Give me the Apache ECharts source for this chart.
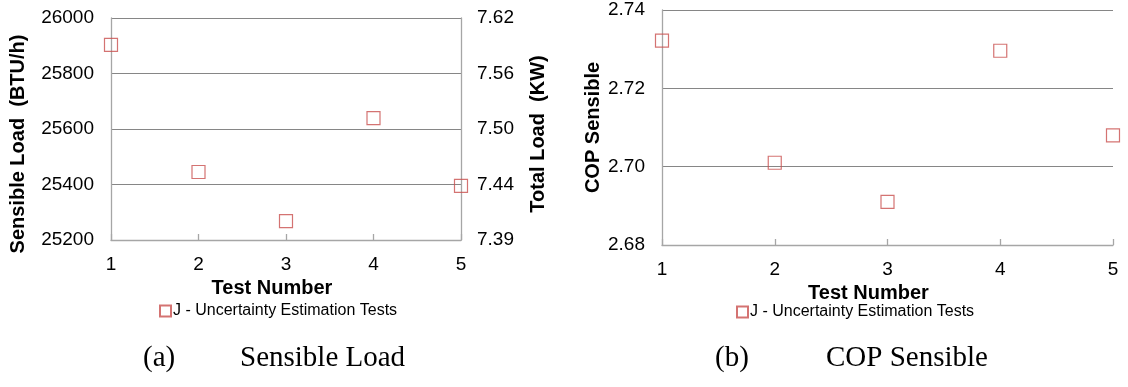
<!DOCTYPE html>
<html>
<head>
<meta charset="utf-8">
<script src="https://cdn.jsdelivr.net/npm/echarts@6/dist/echarts.min.js"></script>
<style>
  html, body { margin: 0; padding: 0; background: #fff; }
  #chart { width: 1128px; height: 387px; }
</style>
</head>
<body>
<div id="chart"></div>
<script>
// Test runs
const testNumbers = [1, 2, 3, 4, 5];
const seriesName = 'J - Uncertainty Estimation Tests';

// (a) Sensible load, BTU/h
const sensibleLoad = [25903, 25445, 25268, 25639, 25395];
// Secondary (total load, kW) tick labels
const totalLoadTicks = ['7.39', '7.44', '7.50', '7.56', '7.62'];

// (b) Sensible COP
const copSensible = [2.7322, 2.7010, 2.6910, 2.7296, 2.7080];

const markerColor = '#c9504f';
const gridColor = '#868686';
const axisColor = '#a6a6a6';
const sansFont = 'Arial, "Liberation Sans", sans-serif';
const serifFont = '"Times New Roman", "Liberation Serif", serif';

const tickLabel = { color: '#000', fontSize: 19, fontFamily: sansFont };
const titleStyle = { color: '#000', fontSize: 20, fontWeight: 'bold', fontFamily: sansFont };

function xAxisFor(gridIndex, titlePad) {
  return {
    type: 'value', gridIndex, min: 1, max: 5, interval: 1,
    name: 'Test Number', nameLocation: 'middle', nameGap: 37,
    nameTextStyle: Object.assign({}, titleStyle, { padding: titlePad }),
    axisLine: { show: true, lineStyle: { color: axisColor, width: 1.3 } },
    axisTick: { show: true, inside: true, length: 6, lineStyle: { color: axisColor, width: 1.3 } },
    axisLabel: Object.assign({ margin: 15 }, tickLabel),
    splitLine: { show: false }
  };
}

function legendAt(left, top) {
  return {
    left, top, padding: 0, data: [seriesName], icon: 'rect',
    itemWidth: 11, itemHeight: 11, itemGap: 0,
    textStyle: { color: '#000', fontSize: 16, fontFamily: sansFont, padding: [0, 0, 0, -3] }
  };
}

const chart = echarts.init(document.getElementById('chart'), null, { renderer: 'canvas' });

chart.setOption({
  animation: false,
  backgroundColor: '#fff',
  grid: [
    { left: 111, right: 667, top: 18, bottom: 147, containLabel: false },
    { left: 662, right: 15, top: 10, bottom: 142, containLabel: false }
  ],
  xAxis: [xAxisFor(0, [0, 28, 0, 0]), xAxisFor(1, [0, 38, 0, 0])],
  yAxis: [
    {
      type: 'value', gridIndex: 0, min: 25200, max: 26000, interval: 200,
      name: 'Sensible Load  (BTU/h)', nameLocation: 'middle', nameGap: 83, nameRotate: 90,
      nameTextStyle: Object.assign({}, titleStyle, { padding: [0, 30, 0, 0] }),
      axisLine: { show: true, lineStyle: { color: axisColor, width: 1.3 } },
      axisTick: { show: false },
      axisLabel: Object.assign({ margin: 17, formatter: (v) => String(v) }, tickLabel),
      splitLine: { show: true, lineStyle: { color: gridColor, width: 1 } }
    },
    {
      type: 'value', gridIndex: 0, position: 'right', min: 0, max: 4, interval: 1,
      name: 'Total Load  (KW)', nameLocation: 'middle', nameGap: 67, nameRotate: 90,
      nameTextStyle: Object.assign({}, titleStyle, { padding: [0, 10, 0, 0] }),
      axisLine: { show: true, lineStyle: { color: axisColor, width: 1.3 } },
      axisTick: { show: false },
      axisLabel: Object.assign({ margin: 16, formatter: (v) => totalLoadTicks[Math.round(v)] }, tickLabel),
      splitLine: { show: false }
    },
    {
      type: 'value', gridIndex: 1, min: 2.68, max: 2.74, interval: 0.02,
      name: 'COP Sensible', nameLocation: 'middle', nameGap: 59, nameRotate: 90,
      nameTextStyle: titleStyle,
      axisLine: { show: true, lineStyle: { color: axisColor, width: 1.3 } },
      axisTick: { show: false },
      axisLabel: Object.assign({ margin: 17, formatter: (v) => v.toFixed(2) }, tickLabel),
      splitLine: { show: true, lineStyle: { color: gridColor, width: 1 } }
    }
  ],
  legend: [legendAt(159, 303), legendAt(736, 304)],
  series: [
    {
      name: seriesName, type: 'scatter', xAxisIndex: 0, yAxisIndex: 0,
      symbol: 'rect', symbolSize: 13, clip: false,
      itemStyle: { color: 'rgba(255,255,255,0)', borderColor: markerColor, borderWidth: 1.2 },
      data: testNumbers.map((t, i) => [t, sensibleLoad[i]])
    },
    {
      name: seriesName, type: 'scatter', xAxisIndex: 1, yAxisIndex: 2,
      symbol: 'rect', symbolSize: 13, clip: false,
      itemStyle: { color: 'rgba(255,255,255,0)', borderColor: markerColor, borderWidth: 1.2 },
      data: testNumbers.map((t, i) => [t, copSensible[i]])
    }
  ],
  graphic: [
    { type: 'text', left: 143, top: 344, style: { text: '(a)', font: '29px ' + serifFont, fill: '#000' } },
    { type: 'text', left: 240, top: 344, style: { text: 'Sensible Load', font: '29px ' + serifFont, fill: '#000' } },
    { type: 'text', left: 715, top: 344, style: { text: '(b)', font: '29px ' + serifFont, fill: '#000' } },
    { type: 'text', left: 826, top: 344, style: { text: 'COP Sensible', font: '29px ' + serifFont, fill: '#000' } }
  ]
});
</script>
</body>
</html>
